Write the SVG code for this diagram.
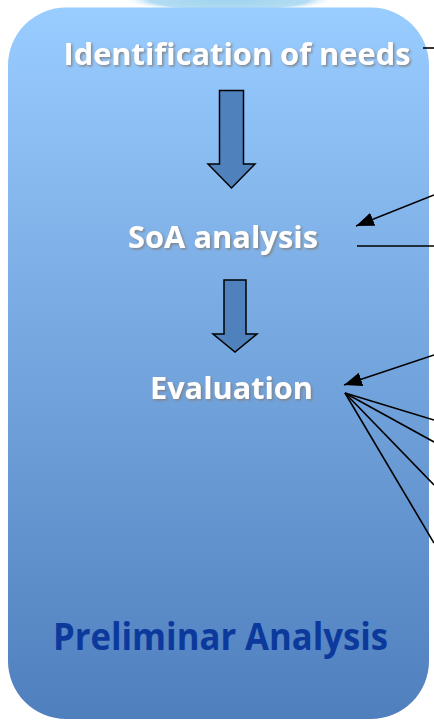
<svg xmlns="http://www.w3.org/2000/svg" width="434" height="721" viewBox="0 0 434 721">
  <defs>
    <linearGradient id="bg" x1="0" y1="0" x2="0" y2="1">
      <stop offset="0" stop-color="#99CCFF"/>
      <stop offset="1" stop-color="#4F7FBD"/>
    </linearGradient>
    <radialGradient id="glow" cx="0.5" cy="0.5" r="0.5">
      <stop offset="0" stop-color="#9ED3EE"/>
      <stop offset="0.75" stop-color="#B3DCF2"/>
      <stop offset="1" stop-color="#FFFFFF" stop-opacity="0"/>
    </radialGradient>
    <filter id="sh" x="-5%" y="-20%" width="110%" height="140%">
      <feDropShadow dx="1.5" dy="1.5" stdDeviation="0.8" flood-color="#7F7F7F" flood-opacity="0.9"/>
    </filter>
    <marker id="ahb" viewBox="0 0 18 14" refX="18" refY="7" markerWidth="18" markerHeight="14" markerUnits="userSpaceOnUse" orient="auto">
      <path d="M0,0 L18,7 L0,14 z" fill="#000"/>
    </marker>
  </defs>
  <style>
    .lbl { font-family: "Open Sans", "Liberation Sans", sans-serif; font-weight: bold; fill: #FFFFFF; text-anchor: middle; filter: url(#sh); }
    .title { font-family: "Open Sans", "Liberation Sans", sans-serif; font-weight: bold; fill: #0B3A9C; text-anchor: middle; }
    .blk { fill: #4F81BD; stroke: #000; stroke-width: 1.5; stroke-linejoin: miter; }
    .con { stroke: #000; stroke-width: 1.6; fill: none; }
  </style>

  <ellipse cx="229" cy="0" rx="106" ry="12" fill="url(#glow)"/>

  <g id="container">
    <rect x="8" y="7.5" width="421" height="711.5" rx="58" ry="58" fill="url(#bg)"/>
    <text class="title" x="220.5" y="650" font-size="37" textLength="335" lengthAdjust="spacingAndGlyphs">Preliminar Analysis</text>
  </g>

  <g id="node-identification">
    <text class="lbl" x="237" y="64.5" font-size="31" textLength="347" lengthAdjust="spacingAndGlyphs">Identification of needs</text>
  </g>

  <g id="block-arrow-1">
    <path class="blk" d="M219.5,90.5 H243.5 V164 H255 L231.5,188 L208,164 H219.5 Z"/>
  </g>

  <g id="node-soa">
    <text class="lbl" x="223" y="248" font-size="30" textLength="190" lengthAdjust="spacingAndGlyphs">SoA analysis</text>
  </g>

  <g id="block-arrow-2">
    <path class="blk" d="M224,280 H246 V334 H257 L235,352 L213,334 H224 Z"/>
  </g>

  <g id="node-evaluation">
    <text class="lbl" x="231.5" y="398.5" font-size="30" textLength="163" lengthAdjust="spacingAndGlyphs">Evaluation</text>
  </g>

  <g id="connectors">
    <line class="con" x1="423" y1="48" x2="434" y2="48"/>
    <line class="con" x1="434" y1="195" x2="356" y2="226" marker-end="url(#ahb)"/>
    <line class="con" x1="357" y1="246" x2="434" y2="246"/>
    <line class="con" x1="434" y1="355" x2="344" y2="385" marker-end="url(#ahb)"/>
    <line class="con" x1="345" y1="393" x2="434" y2="420"/>
    <line class="con" x1="345" y1="393" x2="434" y2="442"/>
    <line class="con" x1="345" y1="393" x2="434" y2="485"/>
    <line class="con" x1="345" y1="393" x2="434" y2="543"/>
  </g>
</svg>
